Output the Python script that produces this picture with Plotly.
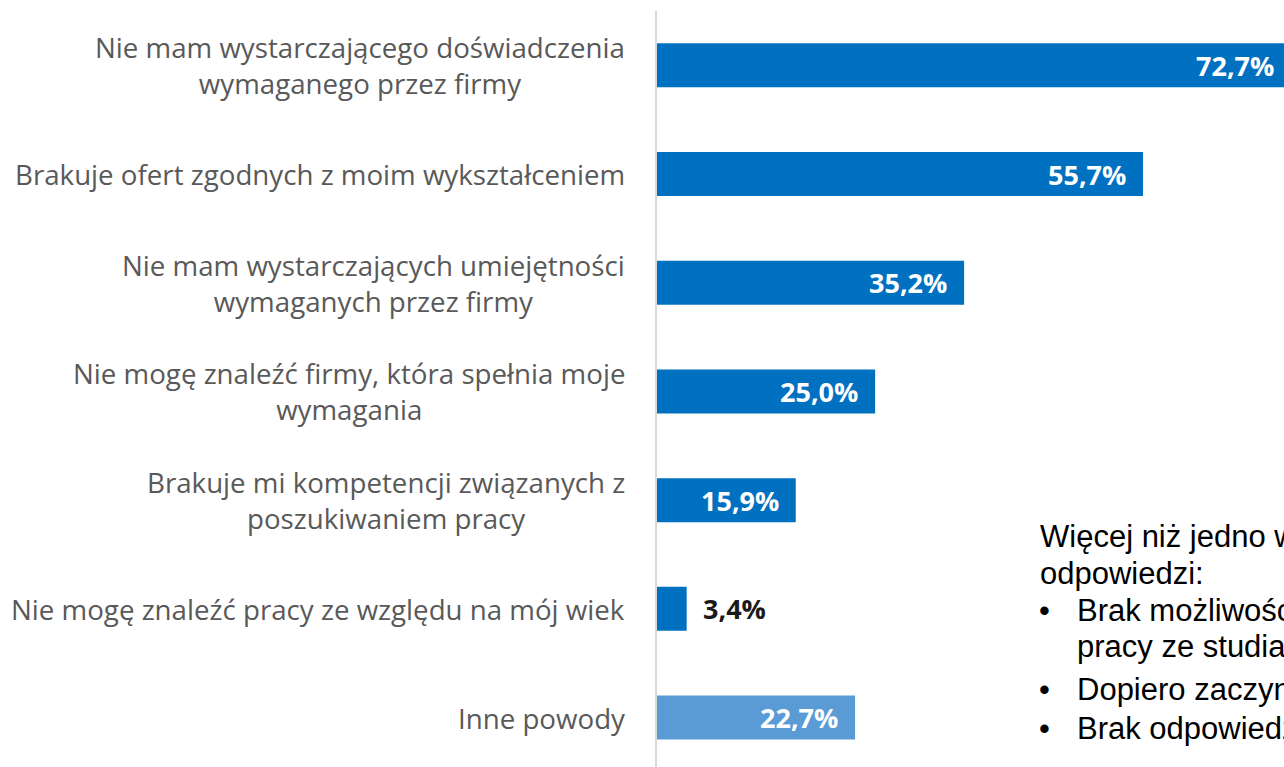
import plotly.graph_objects as go

categories = [
    "Nie mam wystarczającego doświadczenia<br>wymaganego przez firmy",
    "Brakuje ofert zgodnych z moim wykształceniem",
    "Nie mam wystarczających umiejętności<br>wymaganych przez firmy",
    "Nie mogę znaleźć firmy, która spełnia moje<br>wymagania",
    "Brakuje mi kompetencji związanych z<br>poszukiwaniem pracy",
    "Nie mogę znaleźć pracy ze względu na mój wiek",
    "Inne powody",
]
values = [72.7, 55.7, 35.2, 25.0, 15.9, 3.4, 22.7]
value_labels = ["72,7%", "55,7%", "35,2%", "25,0%", "15,9%", "3,4%", "22,7%"]
bar_colors = ["#0070C0"] * 6 + ["#5B9BD5"]

note_bullets = ["", "", "•", "", "•", "•"]
note_indent = [False, False, True, True, True, True]
note_texts = [
    "Więcej niż jedno wskazanie",
    "odpowiedzi:",
    "Brak możliwości łączenia",
    "pracy ze studiami",
    "Dopiero zaczynam szukać",
    "Brak odpowiedzi",
]
note_y_px = [536, 573, 610, 646, 689, 728]

W, H = 1284, 767
plot_left, plot_top = 657, 11
px_per_unit = 8.725
cat_px = 108.7
plot_w = W - plot_left
plot_h = H - plot_top
x_max = plot_w / px_per_unit


def px_to_paper_x(px):
    return (px - plot_left) / plot_w


def px_to_paper_y(py):
    return 1 - (py - plot_top) / plot_h


fig = go.Figure()
fig.add_trace(go.Bar(
    y=list(range(len(categories))),
    x=values,
    orientation="h",
    marker=dict(color=bar_colors, line=dict(width=0)),
    width=0.405,
    hoverinfo="skip",
))

annotations = []
for i, (cat, v, lab) in enumerate(zip(categories, values, value_labels)):
    annotations.append(dict(
        x=0, xref="paper", y=i, yref="y", text=cat, showarrow=False,
        xanchor="right", yanchor="middle", align="center", xshift=-30,
        font=dict(family="Open Sans", size=27.7, color="#595959"),
    ))
    inside = v > 10
    annotations.append(dict(
        x=v / x_max, xref="paper", y=i, yref="y", text="<b>" + lab + "</b>",
        showarrow=False,
        xanchor="right" if inside else "left", yanchor="middle",
        xshift=-15 if inside else 14,
        font=dict(family="Open Sans", size=27, color="white" if inside else "#1a1a1a"),
    ))

note_font = dict(family="Liberation Sans", size=31, color="#000000")
for bullet, indent, txt, ypx in zip(note_bullets, note_indent, note_texts, note_y_px):
    yp = px_to_paper_y(ypx)
    if bullet:
        annotations.append(dict(
            x=px_to_paper_x(1037), xref="paper", y=yp, yref="paper", yanchor="middle",
            xanchor="left", text=bullet, showarrow=False, font=note_font,
        ))
    x0 = 1075 if indent else 1038
    annotations.append(dict(
        x=px_to_paper_x(x0), xref="paper", y=yp, yref="paper", yanchor="middle",
        xanchor="left", text=txt, showarrow=False, font=note_font,
    ))

fig.update_layout(
    width=W, height=H,
    margin=dict(l=plot_left, r=0, t=plot_top, b=0, pad=0),
    paper_bgcolor="white", plot_bgcolor="white",
    showlegend=False,
    xaxis=dict(range=[0, x_max], visible=False, fixedrange=True),
    yaxis=dict(
        range=[-0.5 + plot_h / cat_px, -0.5],
        showticklabels=False, showgrid=False, zeroline=False,
        showline=True, linecolor="#D9D9D9", linewidth=1.5, ticks="",
        fixedrange=True,
    ),
    annotations=annotations,
)

fig.write_html(
    "out.html",
    config={"displayModeBar": False},
    post_script="document.body.style.margin='0';document.body.style.overflow='hidden';",
)
